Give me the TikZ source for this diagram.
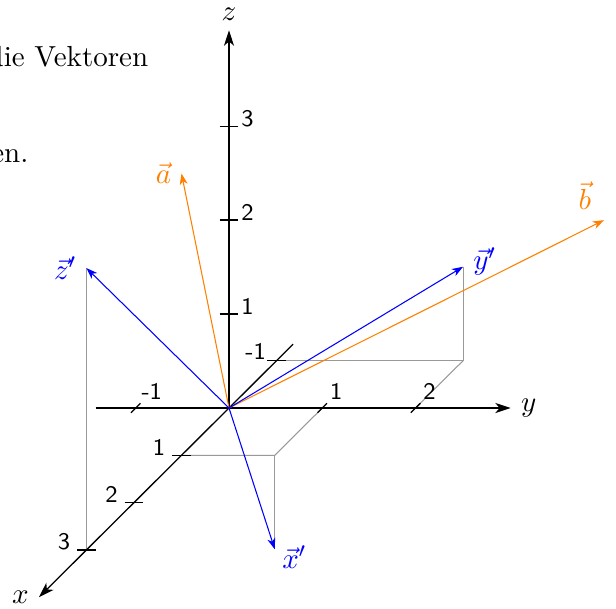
\documentclass[11pt,tikz,border=0pt]{standalone}
\usetikzlibrary{arrows.meta}
\definecolor{vorange}{RGB}{255,128,0}
\tikzset{
  axis/.style={line width=0.5pt, -{Stealth[length=5.8pt,width=3.8pt,inset=1.6pt]}},
  vec/.style={line width=0.4pt, -{Stealth[length=4.2pt,width=3pt,inset=1.2pt]}},
  helper/.style={line width=0.4pt, black!40},
  tickmark/.style={line width=0.5pt},
  ticklabel/.style={font=\sffamily\footnotesize, inner sep=0pt},
}
\begin{document}
\begin{tikzpicture}[x={(-17.93pt,-17.85pt)}, y={(35.2pt,0pt)}, z={(0pt,35.45pt)}]
\useasboundingbox (-86.42pt,-75.48pt) rectangle (146.05pt,153.98pt);
\node[anchor=base east, inner sep=0pt] (t1) at (-30.3pt,128.7pt) {die Vektoren};
\node[anchor=base east, inner sep=0pt] (t2) at (-75.5pt,92.8pt) {en.};

\coordinate (O) at (0,0,0);
\coordinate (zp) at (3,0,3);  \coordinate (zpb) at (3,0,0);
\coordinate (yp) at (-1,2,1); \coordinate (ypb) at (-1,2,0);
\coordinate (xm1) at (-1,0,0); \coordinate (y2) at (0,2,0);
\coordinate (xp) at (1,1,-1); \coordinate (xpb) at (1,1,0);
\coordinate (x1) at (1,0,0);  \coordinate (y1) at (0,1,0);
\coordinate (a) at (1,0,3);   \coordinate (b) at (0,4.02,2);

% helper lines
\draw[helper] (zp) -- (zpb);
\draw[helper] (yp) -- (ypb) -- (xm1);
\draw[helper] (ypb) -- (y2);
\draw[helper] (x1) -- (xpb) -- (y1);
\draw[helper] (xpb) -- (xp);

% axes
\coordinate (xs) at (-1.35,0,0); \coordinate (xe) at (4,0,0);
\coordinate (ys) at (0,-1.43,0); \coordinate (ye) at (0,3.02,0);
\coordinate (ze) at (0,0,4.02);
\draw[axis] (xs) -- (xe) node[left] (xl) {$x$};
\draw[axis] (ys) -- (ye) node[right] (yl) {$y$};
\draw[axis] (O) -- (ze) node[above] (zl) {$z$};

% ticks on x
\foreach \k in {-1,1,2,3} {
  \draw[tickmark] (\k,0,0) ++(-3.5pt,0) -- ++(7pt,0);
}
\foreach \k in {1,2,3} {
  \path (\k,0,0) ++(-6pt,0) node[ticklabel, anchor=base east] (xt\k) {\k};
}
\path (-1,0,0) ++(-3.8pt,0.3pt) node[ticklabel, anchor=base east] (xtm) {-1};

% ticks on y
\foreach \k in {-1,1,2} {
  \draw[tickmark] (0.1,\k,0) -- (-0.1,\k,0);
}
\foreach \k in {1,2} {
  \path (0,\k,0) ++(2.8pt,3.3pt) node[ticklabel, anchor=base west] (yt\k) {\k};
}
\path (0,-1,0) ++(2pt,3.1pt) node[ticklabel, anchor=base west] (ytm) {-1};

% ticks on z
\foreach \k in {1,2,3} {
  \draw[tickmark] (0,0,\k) ++(-3.5pt,0) -- ++(7pt,0);
  \path (0,0,\k) ++(4.5pt,0) node[ticklabel, anchor=base west] (zt\k) {\k};
}

% vectors
\draw[vec, vorange] (O) -- (a) node[left] (al) {$\vec{a}$};
\draw[vec, vorange] (O) -- (b) node[above left, xshift=-1pt] (bl) {$\vec{b}$};
\draw[vec, blue] (O) -- (zp) node[left] (zpl) {$\vec{z}'$};
\draw[vec, blue] (O) -- (yp) node[right, yshift=2pt] (ypl) {$\vec{y}'$};
\draw[vec, blue] (O) -- (xp) node[right, xshift=-1pt, yshift=-3pt] (xpl) {$\vec{x}'$};
\end{tikzpicture}
\end{document}
